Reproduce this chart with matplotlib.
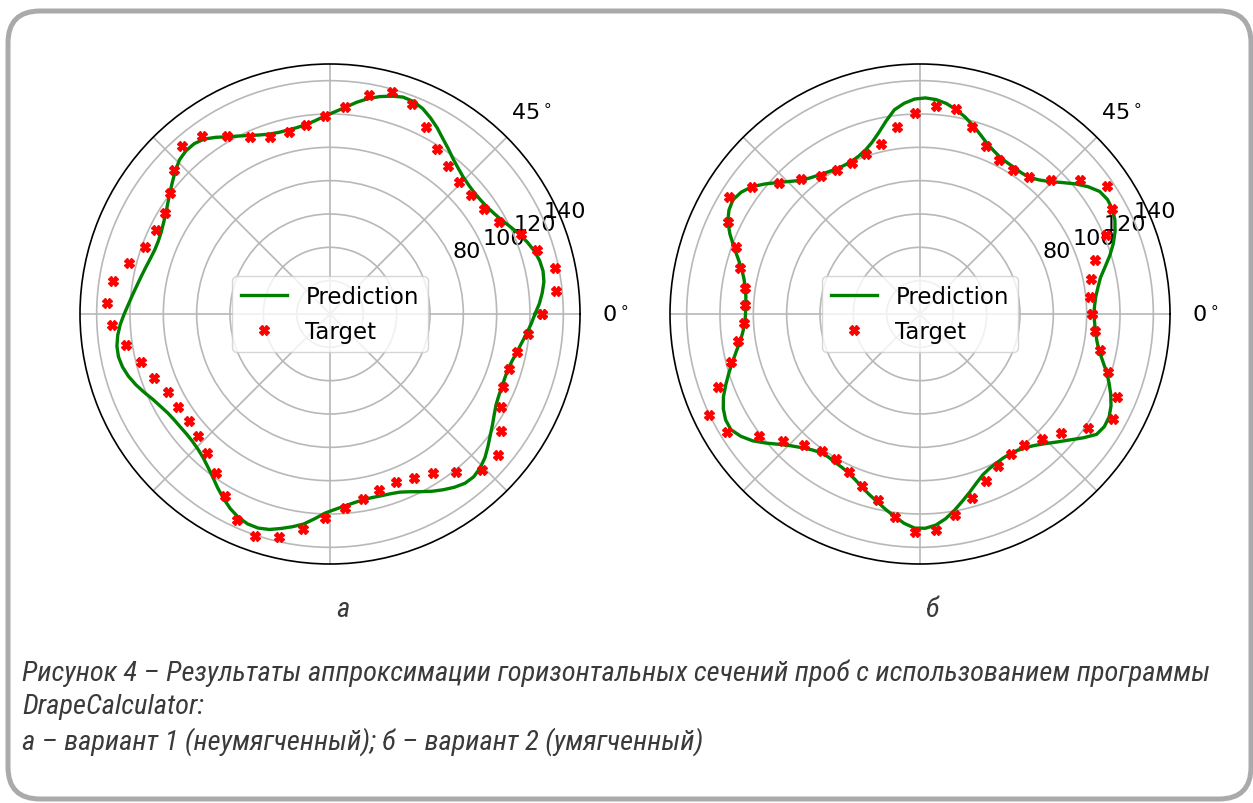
import numpy as np
import matplotlib
matplotlib.use('Agg')
import matplotlib.pyplot as plt
from matplotlib.patches import FancyBboxPatch

# ---------------- data ----------------
# targets: 63 evenly spaced directions (0 .. 354.3 deg)
target_a = [127.4, 136.1, 137.8, 130.2, 124.3, 115.7, 112.1, 110.8, 111.0, 113.2,
            118.2, 125.9, 135.3, 138.2, 133.4, 124.3, 118.7, 114.3, 111.8, 112.3,
            116.2, 123.3, 131.5, 134.2, 127.4, 120.5, 116.3, 115.9, 118.4, 124.4,
            131.9, 134.1, 130.7, 123.8, 117.1, 112.3, 108.1, 106.9, 106.2, 108.0,
            111.6, 117.6, 126.3, 135.8, 140.4, 137.5, 130.1, 122.6, 116.9, 112.7,
            109.6, 108.6, 110.4, 113.7, 121.0, 130.4, 131.6, 124.2, 116.7, 112.9,
            112.7, 114.6, 119.2]
target_b = [103.1, 102.5, 104.6, 109.6, 121.3, 131.4, 136.1, 125.3, 112.7, 105.2,
            102.7, 103.9, 108.2, 116.3, 124.8, 125.2, 120.5, 113.2, 104.5, 101.4,
            99.2, 100.1, 102.0, 108.3, 115.2, 126.2, 134.5, 127.9, 117.2, 111.7,
            106.3, 104.9, 105.9, 110.2, 117.2, 128.8, 140.2, 135.5, 121.4, 111.8,
            104.9, 100.9, 100.7, 103.8, 108.9, 114.4, 122.9, 131.1, 129.8, 122.3,
            114.6, 107.7, 102.8, 100.1, 100.2, 104.9, 110.8, 121.7, 131.8, 128.4,
            118.1, 110.2, 105.3]

# prediction curves: 126 evenly spaced directions (0 .. 357.1 deg)
pred_a = [123.0, 125.8, 128.0, 129.8, 130.4, 129.8, 128.3, 126.0, 123.3, 120.3,
          117.5, 115.5, 114.0, 113.3, 113.1, 113.6, 114.6, 116.4, 118.7, 121.8,
          125.0, 128.8, 132.2, 135.2, 137.0, 137.3, 135.8, 133.8, 131.2, 128.0,
          124.4, 121.4, 118.9, 116.4, 114.6, 113.6, 113.2, 113.2, 113.9, 115.4,
          117.5, 120.0, 122.8, 126.2, 129.3, 130.7, 130.6, 129.3, 126.5, 123.4,
          120.5, 117.8, 115.5, 113.8, 112.5, 111.9, 112.0, 112.8, 114.0, 115.4,
          117.0, 118.9, 121.0, 123.5, 126.0, 128.0, 129.3, 129.5, 128.5, 126.6,
          124.0, 121.0, 118.0, 115.8, 114.0, 113.0, 112.5, 112.2, 112.5, 113.4,
          115.0, 117.5, 120.5, 124.2, 127.8, 131.2, 133.8, 135.3, 135.5, 134.3,
          132.0, 129.6, 127.0, 123.2, 119.5, 117.3, 115.6, 114.2, 113.3, 113.0,
          113.3, 113.8, 114.8, 117.0, 119.8, 122.8, 125.5, 128.0, 129.9, 130.3,
          129.0, 126.8, 123.7, 120.6, 118.0, 115.5, 113.5, 112.5, 112.0, 111.7,
          111.8, 112.9, 114.5, 116.3, 118.5, 120.8]
pred_b = [104.3, 104.9, 106.0, 108.0, 110.5, 114.6, 119.2, 123.4, 127.0, 129.8,
          131.5, 131.8, 130.5, 126.5, 121.5, 116.0, 111.0, 107.4, 105.0, 104.3,
          104.5, 104.8, 105.6, 107.5, 110.0, 113.6, 117.5, 121.3, 124.5, 127.3,
          129.0, 129.7, 129.0, 126.8, 123.5, 117.5, 111.5, 106.8, 103.5, 101.5,
          100.4, 100.1, 100.5, 101.5, 103.0, 104.7, 107.0, 111.2, 116.0, 121.4,
          126.5, 129.8, 131.5, 130.5, 128.0, 123.8, 119.0, 114.4, 110.5, 107.8,
          106.0, 105.0, 104.7, 104.7, 105.2, 106.8, 109.0, 112.4, 116.0, 120.0,
          124.0, 128.0, 131.0, 132.8, 133.0, 130.2, 126.0, 120.5, 115.0, 110.5,
          107.0, 104.2, 102.3, 101.9, 102.5, 103.2, 104.5, 106.7, 109.5, 112.5,
          115.5, 119.0, 122.5, 126.0, 128.5, 128.6, 127.0, 123.8, 119.5, 115.0,
          110.8, 106.8, 103.5, 101.6, 100.5, 99.8, 99.8, 100.7, 102.3, 105.0,
          108.5, 112.8, 117.5, 123.0, 128.2, 129.6, 129.2, 127.2, 124.2, 120.7,
          117.0, 113.0, 109.5, 107.3, 105.8, 104.9]

r_ticks = [20, 40, 60, 80, 100, 120, 140]
r_tick_labels = ['', '', '', '80', '100', '120', '140']
theta_ticks = [0, 45, 90, 135, 180, 225, 270, 315]
theta_tick_labels = ['0$^\\circ$', '45$^\\circ$', '', '', '', '', '', '']
legend_labels = ['Prediction', 'Target']
panel_labels = ['а', 'б']
caption_lines = [
    'Рисунок 4 – Результаты аппроксимации горизонтальных сечений проб с использованием программы',
    'DrapeCalculator:',
    'а – вариант 1 (неумягченный); б – вариант 2 (умягченный)',
]

# ---------------- figure ----------------
W, H = 1253, 804
fig = plt.figure(figsize=(W / 100, H / 100), dpi=100)

bg = fig.add_axes([0, 0, 1, 1])
bg.set_xlim(0, W)
bg.set_ylim(H, 0)
bg.axis('off')
bg.add_patch(FancyBboxPatch((8, 12), 1243, 788,
                            boxstyle='round,pad=0,rounding_size=32',
                            lw=3.6, ec='#aaaaac', fc='none'))


def closed(values):
    return np.r_[values, values[0]]


def polar_panel(cx, target, pred):
    rect = [(cx - 250) / W, (H - 315 - 250) / H, 500 / W, 500 / H]
    ax = fig.add_axes(rect, projection='polar')
    th_pred = np.linspace(0, 2 * np.pi, len(pred) + 1)
    th_targ = np.linspace(0, 2 * np.pi, len(target) + 1)
    ax.plot(th_pred, closed(pred), color='green', lw=2.4, label=legend_labels[0])
    ax.plot(th_targ, closed(target), ls='none', marker='X', ms=6.6,
            color='red', label=legend_labels[1])
    ax.set_rlim(0, 150)
    ax.set_rticks(r_ticks)
    ax.set_yticklabels(r_tick_labels)
    ax.set_rlabel_position(23.5)
    ax.set_thetagrids(theta_ticks, theta_tick_labels)
    ax.tick_params(labelsize=16)
    ax.tick_params(axis='x', pad=15)
    ax.grid(True, color='#b8b8b8', lw=1.2)
    ax.spines['polar'].set_linewidth(1.2)
    ax.legend(loc='center', fontsize=16.5)
    return ax


polar_panel(330, target_a, pred_a)
polar_panel(920, target_b, pred_b)

cap_font = dict(family=['Roboto Condensed', 'Roboto', 'DejaVu Sans'], style='italic',
                color='#3a3a3a')
cap_size = 20.5

bg.text(343, 610, panel_labels[0], ha='center', va='center', fontsize=cap_size, **cap_font)
bg.text(933, 610, panel_labels[1], ha='center', va='center', fontsize=cap_size, **cap_font)
for i, line in enumerate(caption_lines):
    bg.text(22, 673 + 34.5 * i, line, ha='left', va='center', fontsize=cap_size, **cap_font)

fig.savefig('out.png', dpi=100)
